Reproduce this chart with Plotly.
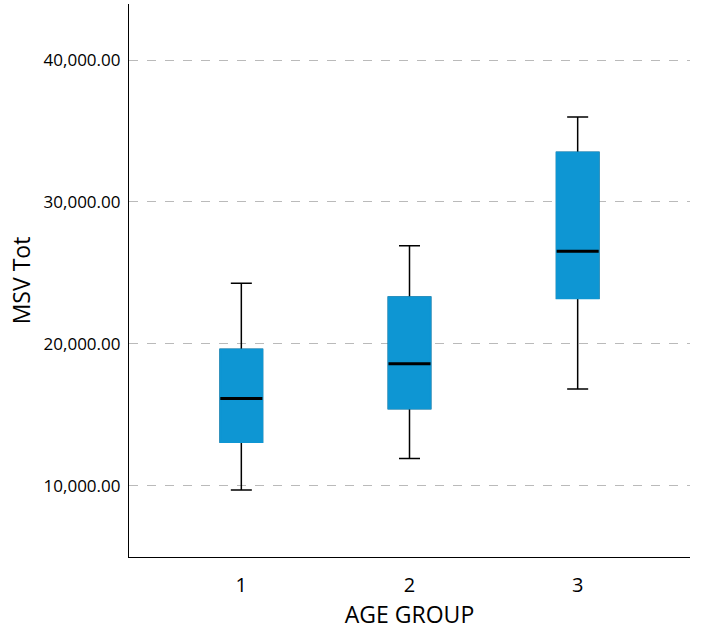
import plotly.graph_objects as go

# Data
age_groups = [1, 2, 3]
tick_labels = ["1", "2", "3"]
lower_whisker = [9700, 11925, 16820]
q1_values = [13090, 15440, 23220]
median_values = [16145, 18605, 26520]
q3_values = [19610, 23290, 33480]
upper_whisker = [24270, 26920, 35990]
y_ticks = [10000, 20000, 30000, 40000]

BLUE = "#0e96d3"
BOX_W = 0.25

fig = go.Figure()

# Whiskers (black) with caps
fig.add_trace(go.Box(
    x=age_groups, q1=q1_values, median=median_values, q3=q3_values,
    lowerfence=lower_whisker, upperfence=upper_whisker,
    width=BOX_W, whiskerwidth=0.5, fillcolor=BLUE,
    line=dict(color="black", width=1.5), boxpoints=False, hoverinfo="skip",
    showlegend=False,
))
# Box body (blue, no black outline)
fig.add_trace(go.Box(
    x=age_groups, q1=q1_values, median=q1_values, q3=q3_values,
    lowerfence=q1_values, upperfence=q3_values,
    width=BOX_W, whiskerwidth=0, fillcolor=BLUE,
    line=dict(color=BLUE, width=2), boxpoints=False, hoverinfo="skip",
    showlegend=False,
))
# Median line (black, thick)
fig.add_trace(go.Box(
    x=age_groups, q1=median_values, median=median_values, q3=median_values,
    lowerfence=median_values, upperfence=median_values,
    width=BOX_W, whiskerwidth=0, fillcolor="black",
    line=dict(color="black", width=3), boxpoints=False, hoverinfo="skip",
    showlegend=False,
))

fig.update_layout(
    width=717, height=633,
    margin=dict(l=129, r=27, t=4, b=76),
    paper_bgcolor="white", plot_bgcolor="white",
    boxmode="overlay",
    font=dict(family="Open Sans", color="black"),
    showlegend=False,
)
fig.update_xaxes(
    range=[0.332, 3.668], tickmode="array", tickvals=age_groups, ticktext=tick_labels,
    showgrid=False, zeroline=False, showline=True, linecolor="black", linewidth=1.2,
    ticks="outside", ticklen=10, tickcolor="rgba(0,0,0,0)", tickfont=dict(size=20),
    title=dict(text="AGE GROUP", font=dict(size=23), standoff=6),
)
fig.update_yaxes(
    range=[4980, 43950], tickmode="array", tickvals=y_ticks,
    tickformat=",.2f", tickfont=dict(size=17),
    showgrid=True, gridcolor="#bababa", griddash="dash", gridwidth=1.2,
    zeroline=False, showline=True, linecolor="black", linewidth=1.2,
    ticks="outside", ticklen=4, tickcolor="rgba(0,0,0,0)",
    title=dict(text="MSV Tot", font=dict(size=23), standoff=6),
)

fig.write_html(
    "out.html",
    config={"displayModeBar": False},
    post_script="document.body.style.margin='0';document.body.style.padding='0';",
)
